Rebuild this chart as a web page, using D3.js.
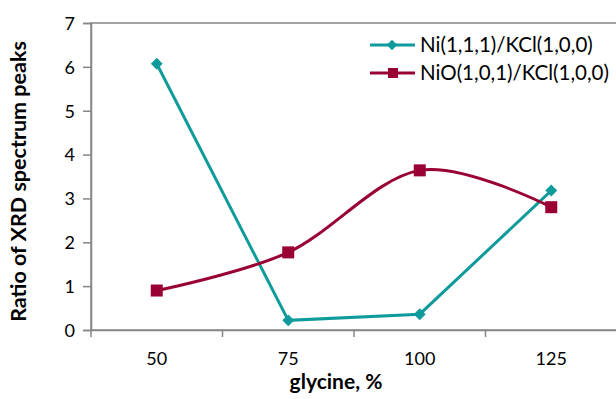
<!DOCTYPE html>
<html>
<head>
<meta charset="utf-8">
<script src="https://cdn.jsdelivr.net/npm/d3@7"></script>
<style>
  html, body { margin: 0; padding: 0; background: #fff; }
  svg { display: block; font-family: Lato, "Open Sans", sans-serif; }
</style>
</head>
<body>
<svg id="chart" width="616" height="399"></svg>
<script>
// glycine content, %
const categories = ["50", "75", "100", "125"];
// peak ratio series
const niValues = [6.07, 0.22, 0.36, 3.18];
const nioValues = [0.9, 1.77, 3.64, 2.8];
const seriesNames = ["Ni(1,1,1)/KCl(1,0,0)", "NiO(1,0,1)/KCl(1,0,0)"];
const yTicks = [0, 1, 2, 3, 4, 5, 6, 7];

const svg = d3.select("#chart");
const plotLeft = 91, plotRight = 617, plotTop = 23, plotBottom = 330;
const axisColor = "#868686";
const teal = "#0f9b9b", maroon = "#990033";

const x = d3.scaleBand().domain(categories).range([plotLeft, plotRight]);
const y = d3.scaleLinear().domain([0, 7]).range([plotBottom, plotTop]);

// plot frame
svg.append("rect")
  .attr("x", plotLeft).attr("y", plotTop)
  .attr("width", plotRight - plotLeft).attr("height", plotBottom - plotTop)
  .attr("fill", "none").attr("stroke", axisColor).attr("stroke-width", 1.5);

// y axis
const yAxis = svg.append("g").attr("transform", `translate(${plotLeft},0)`)
  .call(d3.axisLeft(y).tickValues(yTicks).tickFormat(d3.format("d")).tickSize(8).tickPadding(8));
yAxis.select(".domain").attr("stroke", axisColor).attr("stroke-width", 1.5);
yAxis.selectAll(".tick line").attr("stroke", axisColor).attr("stroke-width", 1.5);
yAxis.selectAll(".tick text").attr("font-size", 18).attr("fill", "#000")
  .attr("font-family", "Lato, sans-serif").attr("dy", "0.35em");

// x axis: ticks sit on the band edges
const xAxis = svg.append("g").attr("transform", `translate(0,${plotBottom})`)
  .call(d3.axisBottom(x).tickSize(0).tickPadding(22));
xAxis.select(".domain").attr("stroke", axisColor).attr("stroke-width", 1.5);
xAxis.selectAll(".tick text").attr("font-size", 18).attr("fill", "#000")
  .attr("font-family", "Lato, sans-serif");
xAxis.selectAll(".edge")
  .data(categories)
  .enter().append("line")
  .attr("x1", d => x(d)).attr("x2", d => x(d))
  .attr("y1", 0).attr("y2", 7)
  .attr("stroke", axisColor).attr("stroke-width", 1.5);

// axis titles
svg.append("text")
  .attr("transform", `translate(26,${(plotTop + plotBottom) / 2 + 5}) rotate(-90)`)
  .attr("text-anchor", "middle")
  .attr("font-size", 21.5).attr("font-weight", "bold")
  .text("Ratio of XRD spectrum peaks");
svg.append("text")
  .attr("x", 336).attr("y", 389)
  .attr("text-anchor", "middle")
  .attr("font-size", 21).attr("font-weight", "bold")
  .text("glycine, %");

const cx = d => x(d) + x.bandwidth() / 2;

// Ni series: straight segments with diamonds
const niData = categories.map((c, i) => ({ c, v: niValues[i] }));
svg.append("path")
  .datum(niData)
  .attr("fill", "none").attr("stroke", teal).attr("stroke-width", 3)
  .attr("d", d3.line().x(d => cx(d.c)).y(d => y(d.v)));
svg.selectAll(".ni")
  .data(niData).enter().append("path")
  .attr("transform", d => `translate(${cx(d.c)},${y(d.v)})`)
  .attr("d", d3.symbol(d3.symbolDiamond2, 90)())
  .attr("fill", teal);

// NiO series: smoothed line with squares
const nioData = categories.map((c, i) => ({ c, v: nioValues[i] }));
svg.append("path")
  .datum(nioData)
  .attr("fill", "none").attr("stroke", maroon).attr("stroke-width", 3)
  .attr("d", d3.line().curve(d3.curveCardinal.tension(0)).x(d => cx(d.c)).y(d => y(d.v)));
svg.selectAll(".nio")
  .data(nioData).enter().append("rect")
  .attr("x", d => cx(d.c) - 6).attr("y", d => y(d.v) - 6)
  .attr("width", 12).attr("height", 12)
  .attr("fill", maroon);

// legend
const legend = svg.append("g");
const legendRows = [
  { name: seriesNames[0], color: teal, shape: "diamond", yy: 45 },
  { name: seriesNames[1], color: maroon, shape: "square", yy: 73 }
];
legendRows.forEach(r => {
  legend.append("line")
    .attr("x1", 370).attr("x2", 415).attr("y1", r.yy).attr("y2", r.yy)
    .attr("stroke", r.color).attr("stroke-width", 3);
  if (r.shape === "diamond") {
    legend.append("path")
      .attr("transform", `translate(392,${r.yy})`)
      .attr("d", d3.symbol(d3.symbolDiamond2, 70)())
      .attr("fill", r.color);
  } else {
    legend.append("rect")
      .attr("x", 388).attr("y", r.yy - 5).attr("width", 10).attr("height", 10)
      .attr("fill", r.color);
  }
  legend.append("text")
    .attr("x", 420).attr("y", r.yy + 6.5)
    .attr("font-size", 20.5)
    .text(r.name);
});
</script>
</body>
</html>
